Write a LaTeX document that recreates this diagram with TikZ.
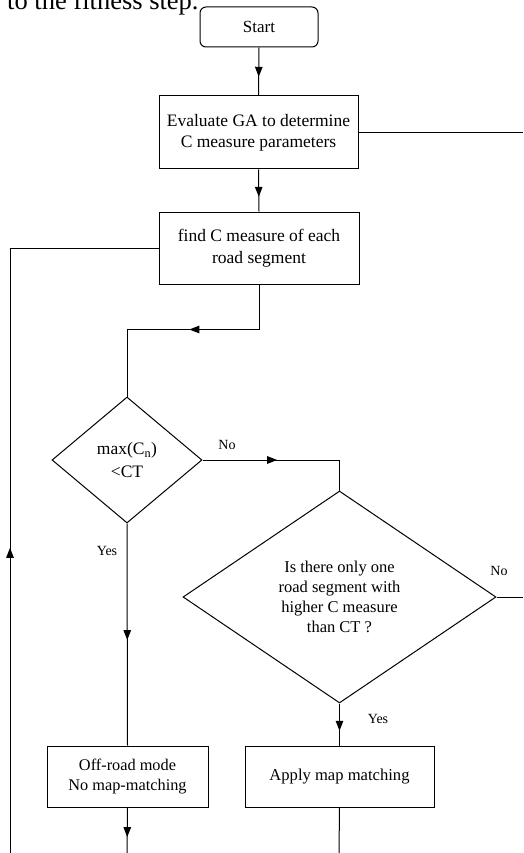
\documentclass[tikz,border=0pt]{standalone}
\usepackage{fontspec}
\setmainfont{Liberation Serif}
\usetikzlibrary{shapes.geometric,arrows.meta,decorations.markings}
\tikzset{
  every node/.style={inner sep=0pt},
  boxnode/.style={draw,line width=1pt,align=center},
  diam/.style={draw,diamond,line width=1pt,align=center,inner sep=0pt},
  conn/.style={line width=1pt},
  arrowat/.style={postaction={decorate,decoration={markings,mark=at position #1 with {\arrow{Triangle[length=10pt,width=7.5pt]}}}}},
  lbl/.style={font=\fontsize{14}{16}\selectfont}
}
\begin{document}
\begin{tikzpicture}[x=1pt,y=-1pt]
\useasboundingbox (0,0) rectangle (523,853);
\clip (0,0) rectangle (523,853);
% caption fragment
\node[anchor=base west,font=\fontsize{26.5}{30}\selectfont] (cap) at (7,10) {to the fitness step.};
% nodes
\node[boxnode,rounded corners=6pt,minimum width=118pt,minimum height=40pt,font=\fontsize{17}{20}\selectfont] (start) at (259,27) {Start};
\node[boxnode,minimum width=199pt,minimum height=73pt,font=\fontsize{17.5}{21}\selectfont] (eval) at (258.5,132.5) {Evaluate GA to determine\\C measure parameters};
\node[boxnode,minimum width=200pt,minimum height=72pt,font=\fontsize{17.5}{22}\selectfont] (find) at (259,248) {find C measure of each\\road segment};
\node[diam,minimum width=150pt,minimum height=126pt,font=\fontsize{17.5}{23}\selectfont] (d1) at (127,460) {max(C\textsubscript{n})\\<CT};
\node[diam,minimum width=313pt,minimum height=212pt,font=\fontsize{16.5}{20}\selectfont] (d2) at (339.5,597) {Is there only one\\road segment with\\higher C measure\\than CT ?};
\node[boxnode,minimum width=161pt,minimum height=61pt,font=\fontsize{16.3}{20}\selectfont] (off) at (127.5,776.5) {Off-road mode\\No map-matching};
\node[boxnode,minimum width=189pt,minimum height=61pt,font=\fontsize{16.6}{20}\selectfont] (apply) at (339.5,776.5) {Apply map matching};
% free ends
\coordinate (eR) at (523,133);
\coordinate (d2R) at (523,597);
\coordinate (offB) at (127,853);
\coordinate (applyB) at (339,853);
\coordinate (loopB) at (10,853);
% connectors
\draw[conn,arrowat=0.61] (start.south) -- (eval.north);
\draw[conn,arrowat=0.65] (eval.south) -- (find.north);
\draw[conn] (eval.east |- eR) -- (eR);
\draw[conn,arrowat=0.47] (find.south) -- ++(0,45) -| (d1.north);
\draw[conn,arrowat=0.446] (d1.east) -| (d2.north);
\draw[conn,arrowat=0.525] (d1.south) -- (off.north);
\draw[conn] (d2.east) -- (d2R);
\draw[conn,arrowat=0.65] (d2.south) -- (apply.north);
\draw[conn,arrowat=0.65] (off.south) -- (offB);
\draw[conn] (apply.south) -- (applyB);
\draw[conn,arrowat=0.405] (loopB) |- (find.west);
% labels
\node[lbl] (no1) at (227,445) {No};
\node[lbl] (yes1) at (107,551) {Yes};
\node[lbl] (no2) at (499,571) {No};
\node[lbl] (yes2) at (378,719) {Yes};
\end{tikzpicture}
\end{document}
